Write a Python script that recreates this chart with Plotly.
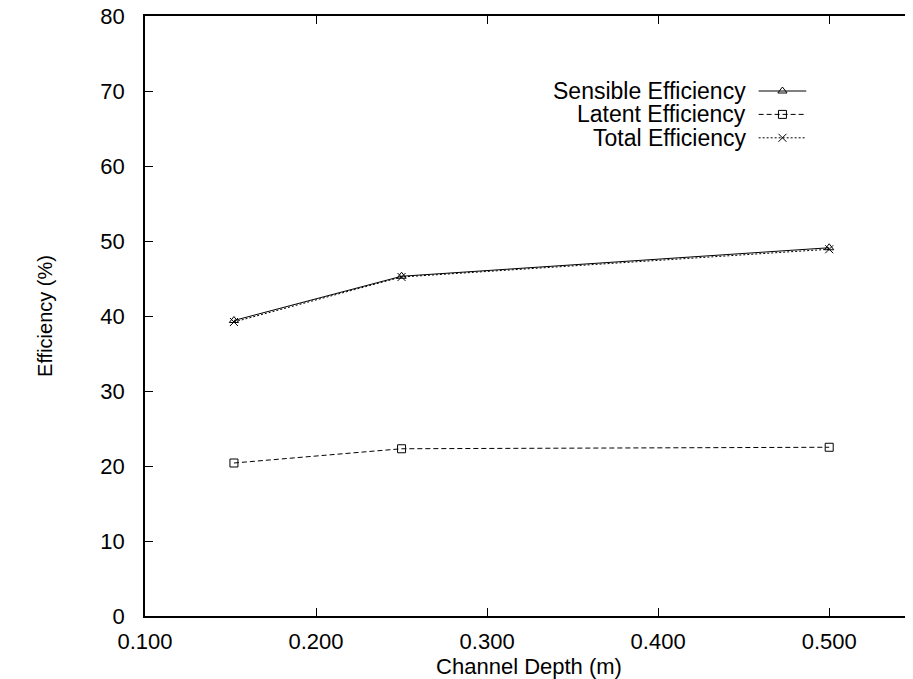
import plotly.graph_objects as go

depth = [0.152, 0.25, 0.5]
sensible = [39.4, 45.3, 49.1]
latent = [20.4, 22.3, 22.5]
total = [39.2, 45.2, 48.9]

names = ["Sensible Efficiency", "Latent Efficiency", "Total Efficiency"]
series = [sensible, latent, total]
symbols = ["triangle-up-open", "square-open", "x-thin-open"]
dashes = ["solid", "5px,3px", "2px,2px"]

FONT = "Liberation Sans, Arial, Helvetica, sans-serif"

# legend sample geometry, in 0..1 coordinates of the plot area
leg_y = [0.875, 0.836, 0.797]
leg_text_x = 0.785
leg_line_x = [0.799, 0.861]
leg_mark_x = 0.830

fig = go.Figure()
for nm, ys, sym, ds in zip(names, series, symbols, dashes):
    fig.add_trace(go.Scatter(
        x=depth, y=ys, mode="lines+markers", name=nm, showlegend=False,
        line=dict(color="black", width=1, dash=ds),
        marker=dict(symbol=sym, size=8, color="black", line=dict(width=1, color="black")),
    ))

for nm, ly, sym, ds in zip(names, leg_y, symbols, dashes):
    fig.add_trace(go.Scatter(
        x=leg_line_x, y=[ly, ly], mode="lines", xaxis="x2", yaxis="y2",
        showlegend=False, hoverinfo="skip",
        line=dict(color="black", width=1, dash=ds),
    ))
    fig.add_trace(go.Scatter(
        x=[leg_mark_x], y=[ly], mode="markers", xaxis="x2", yaxis="y2",
        showlegend=False, hoverinfo="skip",
        marker=dict(symbol=sym, size=8, color="black", line=dict(width=1, color="black")),
    ))
    fig.add_annotation(x=leg_text_x, y=ly, xref="x2", yref="y2", text=nm, showarrow=False,
                       xanchor="right", yanchor="middle",
                       font=dict(family=FONT, size=23, color="black"))

fig.update_layout(
    width=905, height=671,
    margin=dict(l=137, r=0, t=8, b=63),
    paper_bgcolor="white", plot_bgcolor="white",
    showlegend=False,
    font=dict(family=FONT, size=22, color="black"),
    xaxis=dict(
        range=[0.1, 0.549], tickvals=[0.1, 0.2, 0.3, 0.4, 0.5],
        ticktext=["0.100", "0.200", "0.300", "0.400", "0.500"],
        ticks="inside", ticklen=8, tickcolor="black", tickwidth=1,
        showline=True, linecolor="black", linewidth=1.5, mirror="ticks",
        showgrid=False, zeroline=False, automargin=False,
        ticklabelstandoff=5, ticklabeloverflow="allow",
        title=dict(text="Channel Depth (m)", standoff=0, font=dict(size=22)),
    ),
    yaxis=dict(
        range=[0, 80], tickvals=[0, 10, 20, 30, 40, 50, 60, 70, 80],
        ticks="inside", ticklen=8, tickcolor="black", tickwidth=1,
        showline=True, linecolor="black", linewidth=1.5,
        showgrid=False, zeroline=False, automargin=False,
        ticklabelstandoff=14, ticklabeloverflow="allow",
        title=dict(text="Efficiency (%)", standoff=42, font=dict(size=20)),
    ),
    xaxis2=dict(overlaying="x", range=[0, 1], visible=False, domain=[0, 1]),
    yaxis2=dict(overlaying="y", range=[0, 1], visible=False),
)

fig.write_html("out.html")
